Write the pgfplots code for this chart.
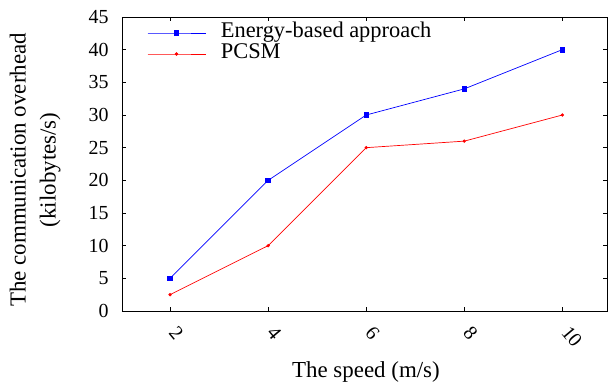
\documentclass[border=0pt]{standalone}
\usepackage{fontspec}
\setmainfont{Liberation Serif}
\usepackage{pgfplots}
\pgfplotsset{compat=1.18}
\begin{document}
\begin{tikzpicture}
\begin{axis}[
  name=ax,
  scale only axis,
  width=485bp, height=294bp,
  xmin=1.02, xmax=10.91,
  ymin=0, ymax=45,
  xtick={2,4,6,8,10},
  ytick={0,5,...,45},
  tick align=inside,
  major tick length=4bp,
  /pgf/number format/assume math mode=true,
  tick label style={font=\fontsize{20}{22}\selectfont},
  x tick label style={xshift=3bp, yshift=-18bp, rotate=-50, anchor=west, inner sep=0pt},
  y tick label style={xshift=-10bp},
  xlabel={The speed (m/s)},
  ylabel={The communication overhead\\(kilobytes/s)},
  ylabel style={align=center, font=\fontsize{23}{30}\selectfont, at={(axis description cs:-0.179,0.48)}, anchor=center},
  xlabel style={font=\fontsize{23}{27}\selectfont, at={(axis description cs:0.503,-0.207)}, anchor=center},
  axis line style={line width=1pt},
  every tick/.style={line width=0.8pt, black},
  legend style={draw=none, fill=none, inner sep=0pt, at={(0.0515,0.982)}, anchor=north west,
    font=\fontsize{22.5}{24}\selectfont, row sep=0pt, column sep=0pt,
    nodes={inner sep=0pt, text height=15bp, text depth=6bp}},
  legend cell align=left,
  legend image code/.code={\draw[mark repeat=2, mark phase=2, #1] plot coordinates {(0bp,0bp) (29bp,0bp) (58bp,0bp)}; \path (0bp,0bp) (73bp,0bp);},
]
\addplot[blue, line width=0.7pt, mark=square*, mark size=2.3bp] coordinates {(2,5) (4,20) (6,30) (8,34) (10,40)};
\addlegendentry{Energy-based approach}
\addplot[red, line width=0.7pt, mark=*, mark size=1.3bp] coordinates {(2,2.5) (4,10) (6,25) (8,26) (10,30)};
\addlegendentry{PCSM}
\end{axis}
\pgfresetboundingbox
\path (ax.south west) ++(-122bp,-76bp) coordinate (bl);
\path (ax.north east) ++(2bp,17bp) coordinate (tr);
\path[use as bounding box] (bl) rectangle (tr);
\end{tikzpicture}
\end{document}
